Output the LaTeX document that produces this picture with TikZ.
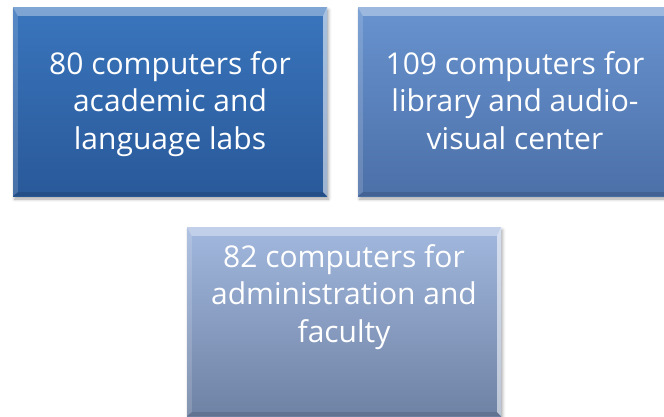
\documentclass[tikz,border=0pt]{standalone}
\usepackage{fontspec}
\setmainfont{Open Sans}
\usepackage{xcolor}
\usepackage{tikz}
\usetikzlibrary{shadows.blur}

\definecolor{labstop}{RGB}{58,117,189}
\definecolor{labsbot}{RGB}{41,89,153}
\definecolor{librarytop}{RGB}{104,147,207}
\definecolor{librarybot}{RGB}{76,112,168}
\definecolor{admintop}{RGB}{162,184,222}
\definecolor{adminbot}{RGB}{110,130,164}

\begin{document}
\begin{tikzpicture}[x=1pt,y=-1pt,
    box/.style={rectangle,minimum width=314pt,minimum height=189pt,inner sep=0pt,
      blur shadow={shadow xshift=1.5pt,shadow yshift=-3pt,shadow blur radius=3pt,shadow opacity=35}},
    boxtext/.style={text=white,align=center,inner sep=0pt,anchor=north,font=\fontsize{30}{37.5}\selectfont}]
  \useasboundingbox (0,0) rectangle (664,416);
  \node[box,top color=labstop,bottom color=labsbot] (labs) at (170,101.5) {};
  \node[box,top color=librarytop,bottom color=librarybot] (library) at (515,101.5) {};
  \node[box,top color=admintop,bottom color=adminbot] (admin) at (344,321.5) {};
  % bevels
  \foreach \b in {labs,library,admin} {
    \fill[white,opacity=0.35] (\b.north west) -- (\b.north east) -- ([shift={(-4pt,-9pt)}]\b.north east) -- ([shift={(5pt,-9pt)}]\b.north west) -- cycle;
    \fill[white,opacity=0.15] (\b.north west) -- ([shift={(5pt,-9pt)}]\b.north west) -- ([shift={(5pt,4pt)}]\b.south west) -- (\b.south west) -- cycle;
    \fill[white,opacity=0.55] (\b.north east) -- (\b.south east) -- ([shift={(-4pt,4pt)}]\b.south east) -- ([shift={(-4pt,-9pt)}]\b.north east) -- cycle;
    \fill[black,opacity=0.12] (\b.south west) -- (\b.south east) -- ([shift={(-4pt,4pt)}]\b.south east) -- ([shift={(5pt,4pt)}]\b.south west) -- cycle;
  }
  \node[boxtext] (labstext) at ([yshift=-44.5pt]labs.north) {80 computers for\\academic and\\language labs};
  \node[boxtext] (librarytext) at ([yshift=-44.5pt]library.north) {109 computers for\\library and audio-\\visual center};
  \node[boxtext] (admintext) at ([yshift=-17.5pt]admin.north) {82 computers for\\administration and\\faculty};
\end{tikzpicture}
\end{document}
